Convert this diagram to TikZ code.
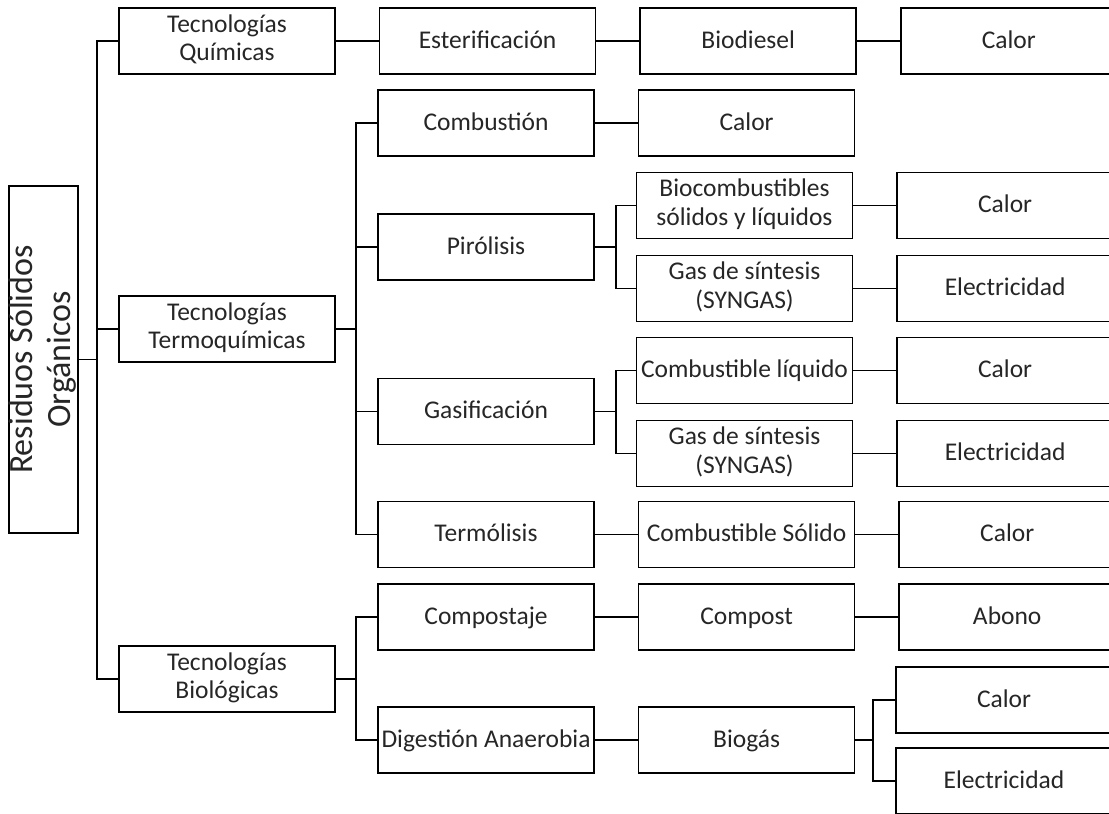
\documentclass[tikz,border=0pt]{standalone}
\usepackage{fontspec}
\setmainfont{Carlito}
\usetikzlibrary{positioning}

\newcommand{\boxstrut}{\rule[-7pt]{0pt}{28pt}}

\begin{document}
\begin{tikzpicture}[x=1pt,y=-1pt,
  box/.style = {draw, line width=1.6pt, minimum width=216pt, minimum height=66pt,
    inner sep=0pt, align=center, text=black!85, font=\fontsize{25.5}{28.5}\selectfont,
    execute at begin node=\boxstrut, execute at end node=\boxstrut},
  link/.style = {line width=1.6pt},
  node distance=43pt]
\clip (0,0) rectangle (1109,814);
\node[box, rotate=90, minimum width=347pt, minimum height=67pt,
  execute at begin node={}, execute at end node={},
  font=\fontsize{34}{38}\selectfont] (root) at (43.5,359.5) {Residuos Sólidos\\Orgánicos};
% first level
\node[box] (quim) at (227,41) {Tecnologías\\Químicas};
\node[box] (termo) at (227,329) {Tecnologías\\Termoquímicas};
\node[box] (biol) at (227,679) {Tecnologías\\Biológicas};
% second level
\node[box] (ester) [right=of quim] {Esterificación};
\node[box] (comb) at (486,123) {Combustión};
\node[box] (pir) at (486,247) {Pirólisis};
\node[box] (gasif) at (486,411.5) {Gasificación};
\node[box] (termol) at (486,534.5) {Termólisis};
\node[box] (compo) at (486,617) {Compostaje};
\node[box] (dig) at (486,740) {Digestión Anaerobia};
% third level
\node[box] (biodsl) [right=of ester] {Biodiesel};
\node[box] (calorA) [right=of comb] {Calor};
\node[box] (biocomb) at (744.5,205.5) {Biocombustibles\\sólidos y líquidos};
\node[box] (synA) at (744.5,288.5) {Gas de síntesis\\(SYNGAS)};
\node[box] (combliq) at (744.5,370.5) {Combustible líquido};
\node[box] (synB) at (744.5,453.5) {Gas de síntesis\\(SYNGAS)};
\node[box] (combsol) [right=of termol] {Combustible Sólido};
\node[box] (compost) [right=of compo] {Compost};
\node[box] (biogas) [right=of dig] {Biogás};
% fourth level
\node[box] (calorB) [right=of biodsl] {Calor};
\node[box] (calorC) [right=of biocomb] {Calor};
\node[box] (elecA) [right=of synA] {Electricidad};
\node[box] (calorD) [right=of combliq] {Calor};
\node[box] (elecB) [right=of synB] {Electricidad};
\node[box] (calorE) [right=of combsol] {Calor};
\node[box] (abono) [right=of compost] {Abono};
\node[box] (calorF) at (1004,700) {Calor};
\node[box] (elecC) at (1004,781) {Electricidad};
% junctions
\coordinate (j0) at (97,0);
\coordinate (j1) at (356,0);
\coordinate (j2) at (616,0);
\coordinate (j3) at (873,0);
\draw[link] (root.south) -- (root.south -| j0);
\draw[link] (quim.west) -| (j0 |- biol.west) -- (biol.west);
\draw[link] (termo.west) -- (termo.west -| j0);
\draw[link] (termo.east) -- (termo.east -| j1);
\draw[link] (comb.west) -| (j1 |- termol.west) -- (termol.west);
\draw[link] (pir.west) -- (pir.west -| j1);
\draw[link] (gasif.west) -- (gasif.west -| j1);
\draw[link] (biol.east) -- (biol.east -| j1);
\draw[link] (compo.west) -| (j1 |- dig.west) -- (dig.west);
\draw[link] (quim) -- (ester);
\draw[link] (ester) -- (biodsl);
\draw[link] (comb) -- (calorA);
\draw[link] (pir.east) -- (pir.east -| j2);
\draw[link] (biocomb.west) -| (j2 |- synA.west) -- (synA.west);
\draw[link] (gasif.east) -- (gasif.east -| j2);
\draw[link] (combliq.west) -| (j2 |- synB.west) -- (synB.west);
\draw[link] (termol) -- (combsol);
\draw[link] (compo) -- (compost);
\draw[link] (dig) -- (biogas);
\draw[link] (biodsl) -- (calorB);
\draw[link] (biocomb) -- (calorC);
\draw[link] (synA) -- (elecA);
\draw[link] (combliq) -- (calorD);
\draw[link] (synB) -- (elecB);
\draw[link] (combsol) -- (calorE);
\draw[link] (compost) -- (abono);
\draw[link] (biogas.east) -- (biogas.east -| j3);
\draw[link] (calorF.west) -| (j3 |- elecC.west) -- (elecC.west);
\end{tikzpicture}
\end{document}
